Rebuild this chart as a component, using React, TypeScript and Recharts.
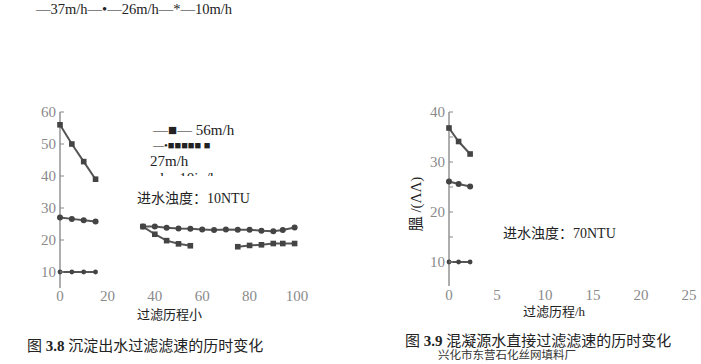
import React from 'react';
import { LineChart, Line, XAxis, YAxis } from 'recharts';

// 图 3.8 (left panel) — x in h, filter rate in m/h
const leftX = [0, 5, 10, 15, 25, 35, 40, 45, 50, 55, 60, 65, 70, 75, 80, 85, 90, 94, 99];
const left56 = [56, 50, 44.5, 39, null, 24.2, 21.8, 19.8, 18.8, 18.2, null, null, null, 17.9, 18.3, 18.5, 18.9, 18.9, 18.9];
const left27 = [27, 26.6, 26.2, 25.8, null, 24.2, 24.2, 23.8, 23.6, 23.5, 23.3, 23.1, 23.3, 23.2, 23.2, 22.9, 22.7, 23.1, 23.9];
const left10 = [10, 10, 10, 10, null, null, null, null, null, null, null, null, null, null, null, null, null, null, null];
const leftXTicks = [0, 20, 40, 60, 80, 100];
const leftYTicks = [10, 20, 30, 40, 50, 60];

// 图 3.9 (right panel)
const rightX = [0, 1, 2.2];
const right37 = [36.8, 34.1, 31.6];
const right26 = [26.1, 25.6, 25.1];
const right10 = [10, 10, 10];
const rightXTicks = [0, 5, 10, 15, 20, 25];
const rightYTicks = [10, 15, 20, 25, 30, 35, 40];

const leftData = leftX.map((x, i) => ({ x, s56: left56[i], s27: left27[i], s10: left10[i] }));
const rightData = rightX.map((x, i) => ({ x, s37: right37[i], s26: right26[i], s10: right10[i] }));

const LINE = '#555';
const MARK = '#444';
const TICK = '#8a8a8a';
const SERIF = '"Liberation Serif", "DejaVu Serif", serif';
const CJK = '"Noto Sans CJK SC", sans-serif';

function YTick(props: any) {
  const { x, y, payload } = props;
  const major = payload.value % 10 === 0;
  return (
    <g>
      <line x1={x} x2={x + 4} y1={y} y2={y} stroke="#888" strokeWidth={1} />
      {major && (
        <text x={x - 4} y={y} dy="0.35em" textAnchor="end" fill={TICK} fontSize={15} fontFamily={SERIF}>
          {payload.value}
        </text>
      )}
    </g>
  );
}

function squareDot(props: any) {
  const { cx, cy, index } = props;
  if (cx == null || cy == null || props.value == null) return <g key={`sq-${index}`} />;
  return <rect key={`sq-${index}`} x={cx - 2.8} y={cy - 2.8} width={5.6} height={5.6} fill={MARK} />;
}

function roundDot(props: any) {
  const { cx, cy, index } = props;
  if (cx == null || cy == null || props.value == null) return <g key={`rd-${index}`} />;
  return <circle key={`rd-${index}`} cx={cx} cy={cy} r={3} fill={MARK} />;
}

function smallDot(props: any) {
  const { cx, cy, index } = props;
  if (cx == null || cy == null || props.value == null) return <g key={`sm-${index}`} />;
  return <circle key={`sm-${index}`} cx={cx} cy={cy} r={2.4} fill={MARK} />;
}

const xTickStyle = { fontSize: 15, fill: TICK, fontFamily: SERIF };

function Txt({ left, top, size = 14, children, style }: any) {
  return (
    <div
      style={{
        position: 'absolute',
        left,
        top,
        fontSize: size,
        lineHeight: 1,
        whiteSpace: 'nowrap',
        color: '#222',
        fontFamily: `${SERIF.split(',')[0]}, ${CJK}`,
        ...style,
      }}
    >
      {children}
    </div>
  );
}

export default function App() {
  return (
    <div style={{ position: 'absolute', left: 0, top: 0, width: 701, height: 364, background: '#fff', overflow: 'hidden' }}>
      <Txt left={36} top={2} size={14.5}>—37m/h—•—26m/h—*—10m/h</Txt>

      <div style={{ position: 'absolute', left: 0, top: 0 }}>
        <LineChart width={340} height={330} data={leftData} margin={{ top: 112, right: 43, bottom: 12, left: 20 }}>
          <XAxis
            dataKey="x"
            type="number"
            domain={[0, 100]}
            ticks={leftXTicks}
            axisLine={false}
            tickLine={false}
            tickSize={0}
            tickMargin={2}
            height={30}
            tick={xTickStyle}
          />
          <YAxis
            type="number"
            domain={[5, 60]}
            ticks={leftYTicks}
            width={40}
            tickSize={0}
            tickMargin={0}
            allowDataOverflow
            axisLine={{ stroke: '#777', strokeWidth: 1.2 }}
            tickLine={false}
            tick={YTick}
          />
          <Line dataKey="s56" stroke={LINE} strokeWidth={2} dot={squareDot} activeDot={false} connectNulls={false} isAnimationActive={false} />
          <Line dataKey="s27" stroke={LINE} strokeWidth={2} dot={roundDot} activeDot={false} connectNulls={false} isAnimationActive={false} />
          <Line dataKey="s10" stroke={LINE} strokeWidth={2} dot={smallDot} activeDot={false} connectNulls={false} isAnimationActive={false} />
        </LineChart>
      </div>

      <Txt left={153} top={123} size={15}>—■— 56m/h</Txt>
      <Txt left={153} top={140} size={11}>—•■■■■■ ■</Txt>
      <Txt left={150} top={154} size={15}>27m/h</Txt>
      <div style={{ position: 'absolute', left: 160, top: 171, width: 70, height: 5, overflow: 'hidden' }}>
        <Txt left={0} top={0} size={15}>ł&nbsp;&nbsp;&nbsp;&nbsp;10in/h</Txt>
      </div>
      <Txt left={137} top={192} size={14}>进水浊度：10NTU</Txt>
      <Txt left={137} top={308} size={13}>过滤历程小</Txt>
      <Txt left={27} top={339} size={15}>
        图 <b style={{ fontFamily: SERIF }}>3.8</b> 沉淀出水过滤滤速的历时变化
      </Txt>

      <div style={{ position: 'absolute', left: 390, top: 0 }}>
        <LineChart width={311} height={330} data={rightData} margin={{ top: 112, right: 12, bottom: 14, left: 19 }}>
          <XAxis
            dataKey="x"
            type="number"
            domain={[0, 25]}
            ticks={rightXTicks}
            axisLine={false}
            tickLine={false}
            tickSize={0}
            tickMargin={3}
            height={30}
            tick={xTickStyle}
          />
          <YAxis
            type="number"
            domain={[5.2, 40]}
            ticks={rightYTicks}
            width={40}
            tickSize={0}
            tickMargin={0}
            allowDataOverflow
            axisLine={{ stroke: '#777', strokeWidth: 1.2 }}
            tickLine={false}
            tick={YTick}
          />
          <Line dataKey="s37" stroke={LINE} strokeWidth={2} dot={squareDot} activeDot={false} isAnimationActive={false} />
          <Line dataKey="s26" stroke={LINE} strokeWidth={2} dot={roundDot} activeDot={false} isAnimationActive={false} />
          <Line dataKey="s10" stroke={LINE} strokeWidth={2} dot={smallDot} activeDot={false} isAnimationActive={false} />
        </LineChart>
      </div>

      <div
        style={{
          position: 'absolute',
          left: 416,
          top: 204,
          transform: 'translate(-50%, -50%) rotate(-90deg)',
          fontSize: 15,
          whiteSpace: 'nowrap',
          fontFamily: `${SERIF.split(',')[0]}, ${CJK}`,
          color: '#222',
          lineHeight: 1,
        }}
      >
        膃 /(ΛΛ)
      </div>
      <Txt left={503} top={227} size={14}>进水浊度：70NTU</Txt>
      <Txt left={523} top={305} size={13}>过滤历程/h</Txt>
      <Txt left={438} top={350} size={11.5} style={{ color: '#333' }}>兴化市东营石化丝网填料厂</Txt>
      <Txt left={405} top={334} size={15}>
        图 <b style={{ fontFamily: SERIF }}>3.9</b> 混凝源水直接过滤滤速的历时变化
      </Txt>
    </div>
  );
}
